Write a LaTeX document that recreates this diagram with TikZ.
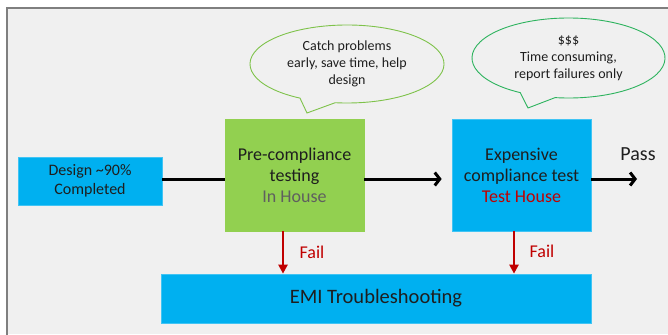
\documentclass[tikz,border=0pt]{standalone}
\usepackage{fontspec}
\setmainfont{Carlito}
\usetikzlibrary{arrows.meta}
\definecolor{pagebg}{HTML}{F0F0F0}
\definecolor{framegray}{HTML}{7F7F7F}
\definecolor{boxblue}{HTML}{00B0F0}
\definecolor{boxgreen}{HTML}{92D050}
\definecolor{failred}{HTML}{C00000}
\definecolor{txt}{HTML}{1E1E1E}
\definecolor{housegray}{HTML}{5F5F5F}
\definecolor{bubbleA}{HTML}{7EC24A}
\definecolor{bubbleB}{HTML}{2DB35E}
\tikzset{
  stage/.style={rectangle, inner sep=0pt, align=center, text=txt},
  bluestage/.style={stage, fill=boxblue, draw=boxblue!75!white, line width=0.7pt},
  greenstage/.style={stage, fill=boxgreen, draw=boxgreen, line width=0.7pt},
  flow/.style={line width=3pt, -{Straight Barb[length=5pt,width=13pt]}},
  plainflow/.style={line width=3pt},
  failflow/.style={failred, line width=2.4pt, -{Triangle[length=9pt,width=9pt]}},
  faillabel/.style={text=failred, font=\fontsize{18}{21}\selectfont},
  bubbletext/.style={align=center, text=txt, font=\fontsize{14}{17}\selectfont},
}
\begin{document}
\begin{tikzpicture}[x=1pt,y=-1pt]
  \useasboundingbox (0,0) rectangle (668,334);
  % canvas and window frame
  \fill[white] (0,0) rectangle (668,334);
  \fill[pagebg] (7,8) rectangle (668,334);
  \draw[framegray, line width=2pt] (7,335) -- (7,8) -- (669,8);

  % process stages
  \node[bluestage, minimum width=144pt, minimum height=48pt,
        font=\fontsize{16}{18.5}\selectfont] (design) at (90,181)
        {Design \textasciitilde90\%\\Completed};
  \node[greenstage, minimum width=139pt, minimum height=112pt,
        font=\fontsize{18}{21}\selectfont] (pre) at (294.5,175)
        {Pre-compliance\\testing\\\textcolor{housegray}{In House}};
  \node[bluestage, minimum width=139pt, minimum height=112pt,
        font=\fontsize{18}{21}\selectfont] (full) at (521.5,175)
        {Expensive\\compliance test\\\textcolor{failred}{Test House}};
  \node[bluestage, minimum width=430pt, minimum height=49pt,
        font=\fontsize{20.5}{24}\selectfont] (emi) at (376,298.5)
        {EMI Troubleshooting};
  \node[text=txt, font=\fontsize{20}{24}\selectfont] (pass) at (638,154) {Pass};

  % main flow line
  \coordinate (lane) at (0,179);
  \coordinate (passend) at (637,179);
  \draw[plainflow] (design.east |- lane) -- (pre.west |- lane);
  \draw[flow, shorten >=10pt] (pre.east |- lane) -- (full.west |- lane);
  \draw[flow] (full.east |- lane) -- (passend);

  % failure paths
  \draw[failflow] ([xshift=-11.5pt]pre.south) -- ([xshift=-11.5pt]pre.south |- emi.north);
  \draw[failflow] ([xshift=-7.5pt]full.south) -- ([xshift=-7.5pt]full.south |- emi.north);
  \node[faillabel] (fail1) at (312,252) {Fail};
  \node[faillabel] (fail2) at (542,251) {Fail};

  % speech bubbles
  \draw[bubbleA, line width=0.9pt, fill=pagebg]
    (347,64) ++(119:97 and 39)
    arc[start angle=119, end angle=457, x radius=97, y radius=39]
    -- (307,113) -- cycle;
  \node[bubbletext] (note1) at (347,64)
    {Catch problems\\early, save time, help\\design};
  \draw[bubbleB, line width=0.9pt, fill=pagebg]
    (568.5,58) ++(120:96.5 and 40)
    arc[start angle=120, end angle=458, x radius=96.5, y radius=40]
    -- (528,108) -- cycle;
  \node[bubbletext] (note2) at (568.5,58)
    {\$\$\$\\Time consuming,\\report failures only};
\end{tikzpicture}
\end{document}
